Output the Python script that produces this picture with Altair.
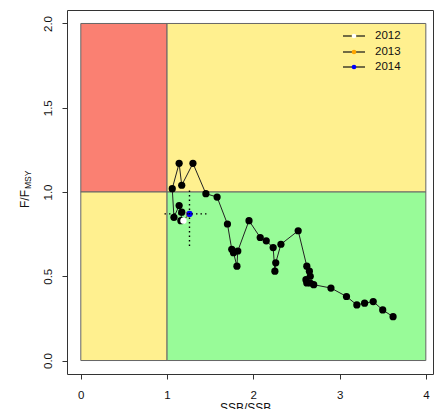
import altair as alt
import pandas as pd

# ---- data ----
years = list(range(1975, 2015))
ssb = [3.62, 3.50, 3.39, 3.29, 3.20, 3.08, 2.90, 2.70, 2.66, 2.62,
       2.61, 2.66, 2.65, 2.62, 2.52, 2.32, 2.26, 2.25, 2.23, 2.15,
       2.08, 1.95, 1.82, 1.81, 1.77, 1.75, 1.70, 1.58, 1.45, 1.30,
       1.17, 1.14, 1.06, 1.08, 1.14, 1.17, 1.16, 1.19, 1.254, 1.26]
f_ratio = [0.26, 0.30, 0.35, 0.34, 0.33, 0.38, 0.43, 0.45, 0.46, 0.46,
           0.48, 0.50, 0.53, 0.56, 0.77, 0.69, 0.58, 0.53, 0.67, 0.71,
           0.73, 0.83, 0.65, 0.56, 0.64, 0.66, 0.81, 0.97, 0.99, 1.17,
           1.04, 1.17, 1.02, 0.85, 0.92, 0.88, 0.83, 0.83, 0.869, 0.87]

highlight_years = [2012, 2013, 2014]
highlight_colors = ["white", "orange", "blue"]

ci_ssb = [0.97, 1.48]
ci_f = [0.68, 1.02]

zone_x1 = [0, 1, 0, 1]
zone_x2 = [1, 4, 1, 4]
zone_y1 = [1, 1, 0, 0]
zone_y2 = [2, 2, 1, 1]
zone_colors = ["#FA8072", "#FFF08F", "#FFF08F", "#98FB98"]

x_ticks = [0, 1, 2, 3, 4]
y_ticks = [0.0, 0.5, 1.0, 1.5, 2.0]

# ---- tables ----
df = pd.DataFrame({"year": years, "ssb": ssb, "f": f_ratio})
zones = pd.DataFrame({"x1": zone_x1, "x2": zone_x2, "y1": zone_y1,
                      "y2": zone_y2, "col": zone_colors})
last = df[df.year == years[-1]].iloc[0]
ci_h = pd.DataFrame({"x1": [ci_ssb[0]], "x2": [ci_ssb[1]], "y": [last.f]})
ci_v = pd.DataFrame({"x": [last.ssb], "y1": [ci_f[0]], "y2": [ci_f[1]]})
one = pd.DataFrame({"k": [0]})

W, H = 366, 364
FONT = "Liberation Sans"

xs = alt.Scale(domain=[-0.16, 4.083], nice=False, zero=False)
ys = alt.Scale(domain=[-0.08, 2.08], nice=False, zero=False)

xaxis = alt.Axis(values=x_ticks, format="d", title=None, domain=False, grid=False,
                 tickSize=5, tickColor="#333", labelPadding=10, labelFontSize=11.5,
                 labelColor="#111", labelFont=FONT)
yaxis = alt.Axis(values=y_ticks, format=".1f", title=None, domain=False, grid=False,
                 tickSize=5, tickColor="#333", labelPadding=14, labelFontSize=11.5,
                 labelAngle=270, labelAlign="center", labelBaseline="middle",
                 labelColor="#111", labelFont=FONT)

base = alt.Chart(df)

zone_layer = alt.Chart(zones).mark_rect(stroke="#666", strokeWidth=1).encode(
    x=alt.X("x1:Q", scale=xs, axis=xaxis),
    x2="x2:Q",
    y=alt.Y("y1:Q", scale=ys, axis=yaxis),
    y2="y2:Q",
    color=alt.Color("col:N", scale=None),
)

line_layer = base.mark_line(color="#222", strokeWidth=1).encode(
    x=alt.X("ssb:Q", scale=xs), y=alt.Y("f:Q", scale=ys), order="year:Q")

black_pts = base.transform_filter(
    alt.FieldLTPredicate(field="year", lt=highlight_years[0])
).mark_circle(size=52, color="black", opacity=1).encode(
    x=alt.X("ssb:Q", scale=xs), y=alt.Y("f:Q", scale=ys))

hl_layers = []
for yr, col in zip(highlight_years, highlight_colors):
    hl_layers.append(
        base.transform_filter(alt.datum.year == yr)
        .mark_circle(size=40, color=col, opacity=1)
        .encode(x=alt.X("ssb:Q", scale=xs), y=alt.Y("f:Q", scale=ys)))

ci_h_layer = alt.Chart(ci_h).mark_rule(color="black", strokeWidth=1.4,
                                        strokeDash=[1.5, 3]).encode(
    x=alt.X("x1:Q", scale=xs), x2="x2:Q", y=alt.Y("y:Q", scale=ys))
ci_v_layer = alt.Chart(ci_v).mark_rule(color="black", strokeWidth=1.4,
                                        strokeDash=[1.5, 3]).encode(
    x=alt.X("x:Q", scale=xs), y=alt.Y("y1:Q", scale=ys), y2="y2:Q")

# ---- legend (drawn by hand, no box) ----
leg_layers = []
leg_rows = [26, 42, 57]
for yr, col, ry in zip(highlight_years, highlight_colors, leg_rows):
    leg_layers.append(alt.Chart(one).mark_rule(color="#111", strokeWidth=1.2).encode(
        x=alt.value(276), x2=alt.value(298), y=alt.value(ry)))
    leg_layers.append(alt.Chart(one).mark_point(filled=True, size=22, color=col,
                                                opacity=1).encode(
        x=alt.value(287), y=alt.value(ry)))
    leg_layers.append(alt.Chart(one).mark_text(align="left", baseline="middle",
                                               fontSize=11.5, font=FONT,
                                               color="#111").encode(
        x=alt.value(308), y=alt.value(ry), text=alt.value(str(yr))))

# ---- axis titles with subscripts ----
titles = [
    alt.Chart(one).mark_text(align="left", baseline="alphabetic", fontSize=12,
                             font=FONT, color="#111").encode(
        x=alt.value(153), y=alt.value(402), text=alt.value("SSB/SSB")),
    alt.Chart(one).mark_text(align="left", baseline="alphabetic", fontSize=8.5,
                             font=FONT, color="#111").encode(
        x=alt.value(206), y=alt.value(405), text=alt.value("MSY")),
    alt.Chart(one).mark_text(align="left", baseline="alphabetic", fontSize=12,
                             font=FONT, color="#111", angle=270).encode(
        x=alt.value(-38), y=alt.value(198), text=alt.value("F/F")),
    alt.Chart(one).mark_text(align="left", baseline="alphabetic", fontSize=8.5,
                             font=FONT, color="#111", angle=270).encode(
        x=alt.value(-36), y=alt.value(179), text=alt.value("MSY")),
]

chart = alt.layer(
    zone_layer, line_layer, black_pts, *hl_layers, ci_h_layer, ci_v_layer,
    *leg_layers, *titles
).properties(
    width=W, height=H,
    autosize=alt.AutoSizeParams(type="none"),
    padding={"left": 59, "top": 2, "right": 1, "bottom": 35},
).configure_view(stroke="#333", strokeWidth=1)

chart.save("out.html", embed_options={"renderer": "svg", "actions": False})
